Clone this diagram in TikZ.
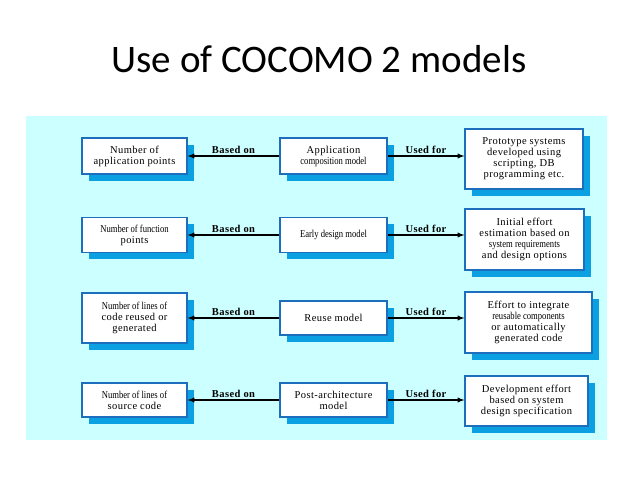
\documentclass[tikz,border=0pt]{standalone}
\usepackage{fontspec}
\setmainfont{Liberation Serif}[LetterSpace=4]
\newfontfamily\titlefont{Carlito}
\newfontfamily\narrowfont{Liberation Serif}[FakeStretch=0.82]
\usetikzlibrary{shadows}

\definecolor{bgcyan}{RGB}{204,255,255}
\definecolor{boxblue}{RGB}{30,110,190}
\definecolor{shadowblue}{RGB}{10,160,225}

\begin{document}
\begin{tikzpicture}[
    x=1pt, y=-1pt,
    font=\fontsize{10.5}{11}\selectfont
]
\tikzset{
    mybox/.style = {rectangle, draw=boxblue, line width=1.2pt, fill=white, align=center, inner sep=1pt,
        drop shadow={shadow xshift=7pt, shadow yshift=-7pt, fill=shadowblue, opacity=1}},
    boxl/.style = {mybox, minimum width=105pt},
    boxm/.style = {mybox, minimum width=107pt},
    edgel/.style = {->, >=latex, line width=1.3pt},
    lab/.style = {above, inner sep=2pt, font=\bfseries\fontsize{10.5}{11}\selectfont}
}
\useasboundingbox (0,0) rectangle (638,478);
\fill[bgcyan] (26,116) rectangle (607,440);
\node[font=\titlefont\fontsize{39}{46}\selectfont, anchor=base] at (319,73) (title) {Use of COCOMO 2 models};
% inputs
\node[boxl, minimum height=36pt] at (134.5,156) (l1) {Number of\\application points};
\node[boxl, minimum height=35pt] at (134.5,235) (l2) {{\narrowfont Number of function}\\points};
\node[boxl, minimum height=50pt] at (134.5,318) (l3) {{\narrowfont Number of lines of}\\code reused or\\generated};
\node[boxl, minimum height=34pt] at (134.5,400) (l4) {{\narrowfont Number of lines of}\\source code};
% models
\node[boxm, minimum height=36pt] at (333.5,156) (m1) {Application\\{\narrowfont composition model}};
\node[boxm, minimum height=35pt] at (333.5,235) (m2) {{\narrowfont Early design model}};
\node[boxm, minimum height=34pt] at (333.5,318) (m3) {Reuse model};
\node[boxm, minimum height=34pt] at (333.5,400) (m4) {Post-architecture\\model};
% uses
\node[mybox, minimum width=118pt, minimum height=60pt] at (524,159) (r1) {Prototype systems\\developed using\\scripting, DB\\programming etc.};
\node[mybox, minimum width=119pt, minimum height=61pt] at (524.5,239.5) (r2) {Initial effort\\estimation based on\\{\narrowfont system requirements}\\and design options};
\node[mybox, minimum width=127pt, minimum height=61pt] at (528.5,322.5) (r3) {Effort to integrate\\{\narrowfont reusable components}\\or automatically\\generated code};
\node[mybox, minimum width=123pt, minimum height=50pt] at (526.5,401) (r4) {Development effort\\based on system\\design specification};
\foreach \i in {1,...,4} {
    \draw[edgel] (m\i.west) -- (m\i.west -| l\i.east) node[lab, midway] {Based on};
    \draw[edgel] (m\i.east) -- (m\i.east -| r\i.west) node[lab, midway] {Used for};
}
\end{tikzpicture}
\end{document}
